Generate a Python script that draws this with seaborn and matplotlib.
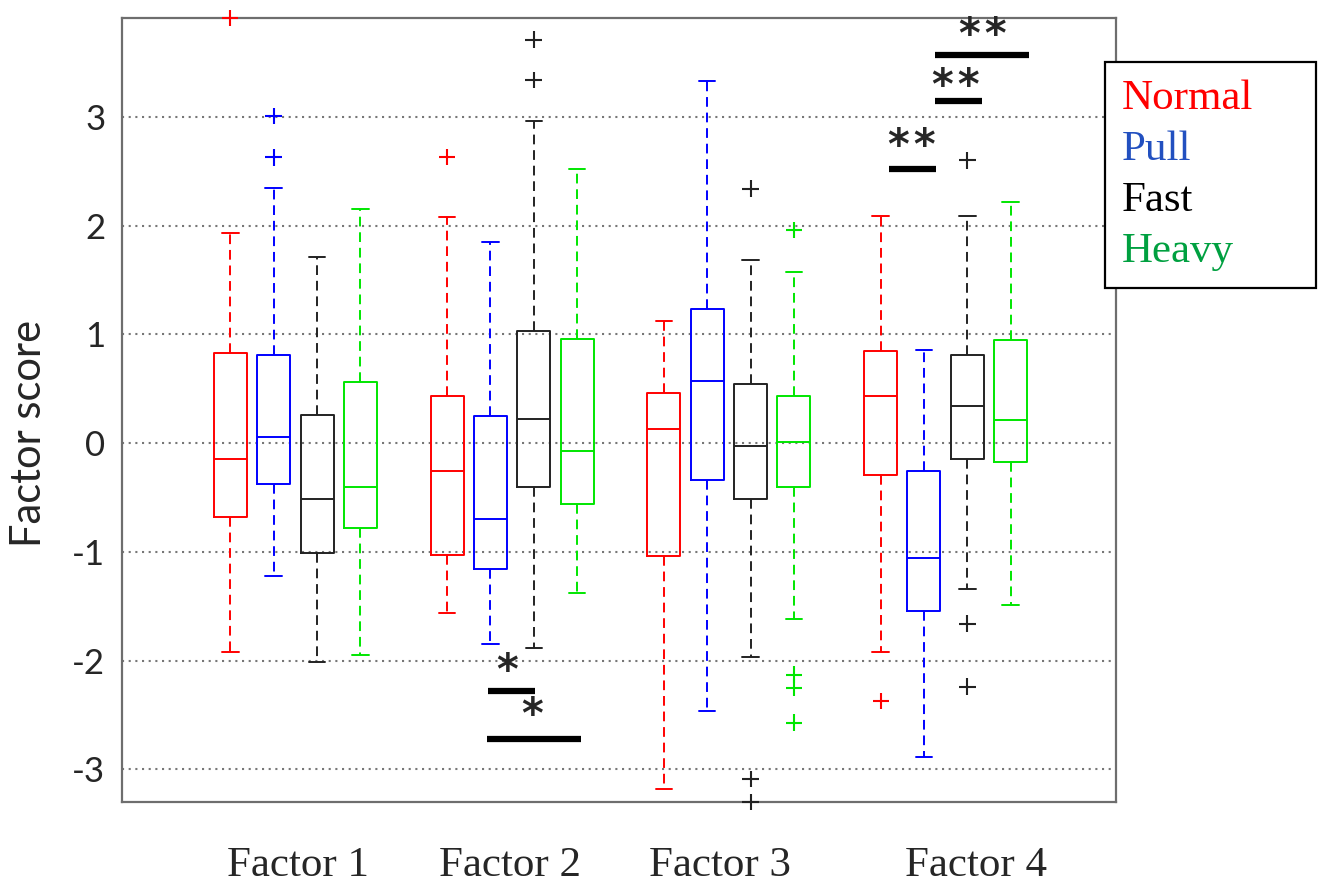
import numpy as np
import pandas as pd
import matplotlib
matplotlib.use("Agg")
import matplotlib.pyplot as plt
import seaborn as sns
from matplotlib.lines import Line2D

factors = ["Factor 1", "Factor 2", "Factor 3", "Factor 4"]
conditions = ["Normal", "Pull", "Fast", "Heavy"]

# rows: factors, columns: conditions (Normal, Pull, Fast, Heavy)
whisker_low = [[-1.92, -1.22, -2.01, -1.95],
               [-1.56, -1.85, -1.88, -1.38],
               [-3.18, -2.46, -1.97, -1.62],
               [-1.92, -2.89, -1.34, -1.49]]
q1 = [[-0.68, -0.38, -1.01, -0.78],
      [-1.03, -1.16, -0.40, -0.56],
      [-1.04, -0.34, -0.51, -0.40],
      [-0.29, -1.54, -0.15, -0.17]]
median = [[-0.15, 0.06, -0.51, -0.40],
          [-0.26, -0.70, 0.22, -0.07],
          [0.13, 0.57, -0.03, 0.01],
          [0.43, -1.06, 0.34, 0.21]]
q3 = [[0.83, 0.81, 0.26, 0.56],
      [0.43, 0.25, 1.03, 0.96],
      [0.46, 1.23, 0.54, 0.43],
      [0.85, -0.26, 0.81, 0.95]]
whisker_high = [[1.93, 2.35, 1.71, 2.15],
                [2.08, 1.85, 2.96, 2.52],
                [1.12, 3.33, 1.68, 1.57],
                [2.09, 0.86, 2.09, 2.22]]

outlier_factor = ["Factor 1", "Factor 1", "Factor 1", "Factor 2", "Factor 2", "Factor 2",
                  "Factor 3", "Factor 3", "Factor 3", "Factor 3", "Factor 3", "Factor 3",
                  "Factor 3", "Factor 4", "Factor 4", "Factor 4", "Factor 4"]
outlier_condition = ["Normal", "Pull", "Pull", "Normal", "Fast", "Fast",
                     "Fast", "Fast", "Fast", "Heavy", "Heavy", "Heavy",
                     "Heavy", "Normal", "Fast", "Fast", "Fast"]
outlier_value = [3.91, 3.01, 2.63, 2.63, 3.71, 3.34,
                 2.34, -3.09, -3.30, 1.96, -2.13, -2.25,
                 -2.57, -2.37, 2.60, -1.66, -2.24]

# significance annotations (data coordinates)
sig_x0 = [0.888, 0.884, 2.738, 2.951, 2.951]
sig_x1 = [1.105, 1.318, 2.955, 3.168, 3.385]
sig_y = [-2.28, -2.72, 2.52, 3.15, 3.57]
sig_text = ["*", "*", "*\u200a*", "*\u200a*", "*\u200a*"]
sig_text_x = [0.976, 1.091, 2.845, 3.048, 3.173]
sig_text_y = [-2.10, -2.51, 2.72, 3.28, 3.74]

y_ticks = [-3, -2, -1, 0, 1, 2, 3]

line_colors = ["#ff0000", "#0000ff", "#222222", "#00e600"]
legend_colors = ["#ff0000", "#2250c0", "#000000", "#00a040"]

# build five-number rows so that the box stats equal the read values
rows = []
for i, f in enumerate(factors):
    for j, c in enumerate(conditions):
        for v in (whisker_low[i][j], q1[i][j], median[i][j], q3[i][j], whisker_high[i][j]):
            rows.append({"factor": f, "condition": c, "score": v})
df = pd.DataFrame(rows)
out_df = pd.DataFrame({"factor": outlier_factor, "condition": outlier_condition,
                       "score": outlier_value})

sns.set_theme(style="white")
fig = plt.figure(figsize=(13.19, 8.84), dpi=100)
ax = fig.add_axes([122 / 1319, 1 - 802 / 884, (1116 - 122) / 1319, (802 - 18) / 884])

sns.boxplot(data=df, x="factor", y="score", hue="condition", order=factors,
            hue_order=conditions, palette=line_colors, fill=False, whis=(0, 100),
            width=0.8, gap=0.24, linewidth=1.4, legend=False, ax=ax,
            whiskerprops=dict(linestyle=(0, (5, 3))))

sns.stripplot(data=out_df, x="factor", y="score", hue="condition", order=factors,
              hue_order=conditions, palette=line_colors, dodge=True, jitter=False,
              marker="+", size=12, linewidth=1.5, legend=False, ax=ax)
for coll in ax.collections:
    coll.set_clip_on(False)

for x0, x1, y in zip(sig_x0, sig_x1, sig_y):
    ax.plot([x0, x1], [y, y], color="black", linewidth=4.5, solid_capstyle="butt")
for tx, ty, t in zip(sig_text_x, sig_text_y, sig_text):
    ax.text(tx, ty, t, ha="center", va="center", fontsize=30, fontweight="bold",
            family="DejaVu Sans")

ax.set_xlim(-0.80, 3.786)
ax.set_ylim(-3.30, 3.91)
ax.set_yticks(y_ticks)
ax.set_yticklabels([str(t) for t in y_ticks], family="Lato", fontsize=25)
ax.set_xticks([0.01, 0.99, 1.96, 3.14])
ax.set_xticklabels(factors, family="Liberation Serif", fontsize=31)
ax.tick_params(axis="y", length=0, pad=12)
ax.tick_params(axis="x", length=0, pad=32)
ax.set_xlabel("")
ax.set_ylabel("Factor score", family="Lato", fontsize=30)
ax.yaxis.set_label_coords(-0.074, 0.47)
ax.yaxis.grid(True, linestyle=(0, (1, 2.2)), color="#777777", linewidth=1.5)
ax.xaxis.grid(False)
for s in ax.spines.values():
    s.set_visible(True)
    s.set_color("#6e6e6e")
    s.set_linewidth(1.6)

handles = [Line2D([], [], linestyle="none") for _ in conditions]
leg = fig.legend(handles, conditions, loc="upper left",
                 bbox_to_anchor=(1105 / 1319, 1 - 288 / 884, (1316 - 1105) / 1319, (288 - 62) / 884),
                 mode="expand", borderaxespad=0, handlelength=0, handletextpad=0,
                 labelspacing=0.27, borderpad=0.4, fancybox=False, framealpha=1,
                 prop={"family": "Liberation Serif", "size": 31})
leg.get_frame().set_edgecolor("black")
leg.get_frame().set_linewidth(1.6)
for txt, col in zip(leg.get_texts(), legend_colors):
    txt.set_color(col)

fig.savefig("out.png", dpi=100)
